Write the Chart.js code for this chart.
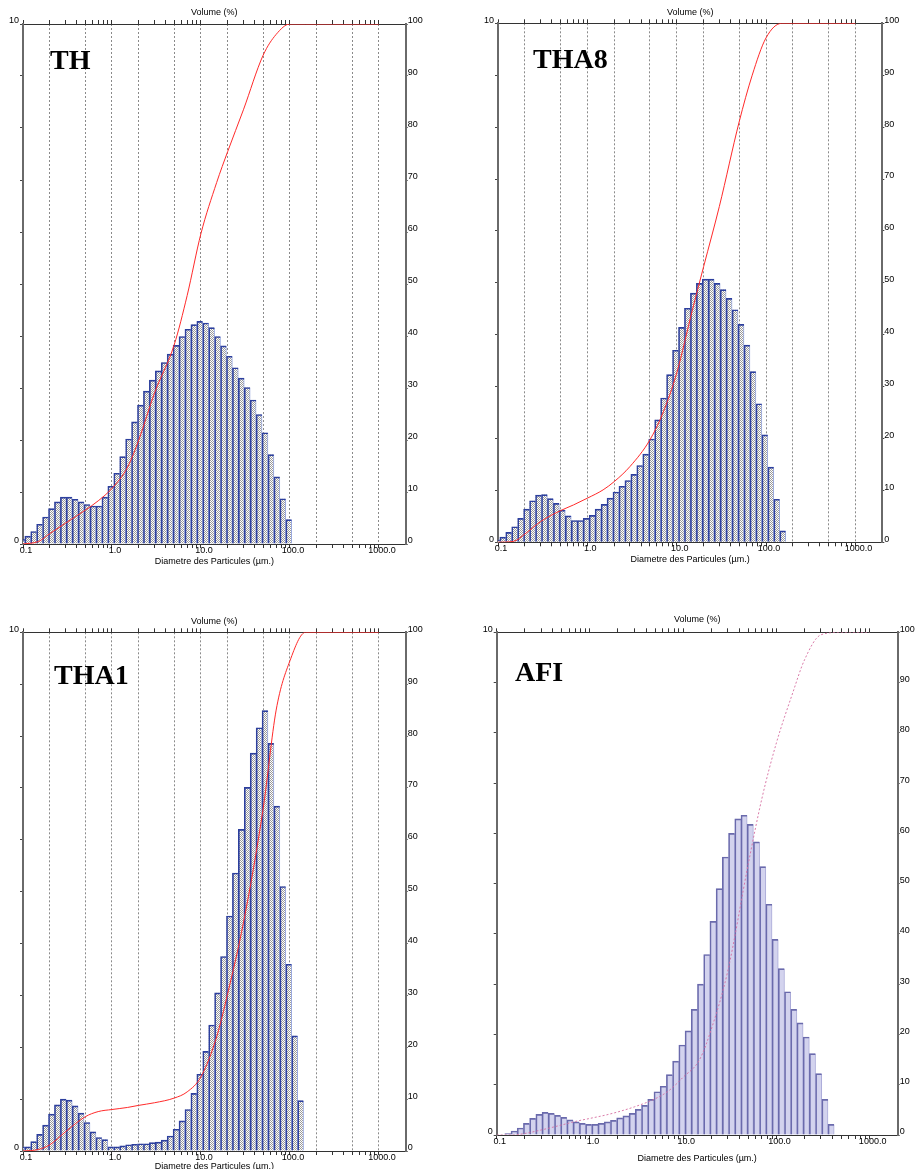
<!DOCTYPE html>
<html lang="fr">
<head>
<meta charset="utf-8">
<title>Distribution granulométrique</title>
<script src="https://cdn.jsdelivr.net/npm/chart.js@4.4.0/dist/chart.umd.min.js"></script>
<style>
  html, body { margin: 0; padding: 0; background: #fff; overflow: hidden; }
  #page { position: relative; width: 915px; height: 1169px; overflow: hidden; }
  canvas { position: absolute; }
  .nom { position: absolute; font: bold 28px "Liberation Serif", "Times New Roman", serif; line-height: 28px; color: #000; white-space: nowrap; }
</style>
</head>
<body>
<div id="page">
  <canvas id="cTH" width="440" height="575" style="left:0px;top:0px"></canvas>
  <canvas id="cTHA8" width="445" height="575" style="left:470px;top:0px"></canvas>
  <canvas id="cTHA1" width="440" height="578" style="left:0px;top:600px"></canvas>
  <canvas id="cAFI" width="445" height="569" style="left:470px;top:600px"></canvas>
  <div class="nom" style="left:50px;top:46px">TH</div>
  <div class="nom" style="left:533px;top:45px">THA8</div>
  <div class="nom" style="left:54px;top:661px">THA1</div>
  <div class="nom" style="left:515px;top:658px">AFI</div>
</div>
<script>
//Centre des classes de taille (µm)
const diametres = [0.0970, 0.1131, 0.1318, 0.1537, 0.1792, 0.2089, 0.2436, 0.2840, 0.3311, 0.3860,
  0.4501, 0.5248, 0.6118, 0.7133, 0.8317, 0.9697, 1.131, 1.318, 1.537, 1.792,
  2.089, 2.436, 2.840, 3.311, 3.860, 4.501, 5.248, 6.118, 7.133, 8.317,
  9.697, 11.31, 13.18, 15.37, 17.92, 20.89, 24.36, 28.40, 33.11, 38.60,
  45.01, 52.48, 61.18, 71.33, 83.17, 96.97, 113.1, 131.8, 153.7, 179.2,
  208.9, 243.6, 284.0, 331.1, 386.0];

//Volume (%) par classe, lu sur chaque histogramme
const volTH = [0.09, 0.15, 0.24, 0.38, 0.52, 0.68, 0.81, 0.90, 0.90, 0.86,
  0.81, 0.76, 0.73, 0.73, 0.90, 1.11, 1.36, 1.68, 2.02, 2.35,
  2.67, 2.94, 3.15, 3.33, 3.49, 3.65, 3.82, 3.99, 4.13, 4.22,
  4.28, 4.25, 4.16, 3.99, 3.81, 3.61, 3.39, 3.19, 3.01, 2.77,
  2.49, 2.14, 1.72, 1.29, 0.87, 0.47];
const volTHA8 = [0.05, 0.10, 0.19, 0.30, 0.46, 0.64, 0.80, 0.91, 0.92, 0.84,
  0.75, 0.62, 0.51, 0.42, 0.42, 0.46, 0.52, 0.64, 0.73, 0.85,
  0.97, 1.08, 1.19, 1.31, 1.48, 1.70, 1.99, 2.36, 2.78, 3.23,
  3.70, 4.14, 4.51, 4.80, 4.99, 5.07, 5.07, 4.99, 4.87, 4.70,
  4.48, 4.20, 3.80, 3.29, 2.67, 2.07, 1.45, 0.83, 0.22];
const volTHA1 = [0.08, 0.08, 0.18, 0.32, 0.50, 0.71, 0.89, 1.00, 0.98, 0.87,
  0.73, 0.55, 0.37, 0.26, 0.22, 0.08, 0.08, 0.10, 0.12, 0.13,
  0.14, 0.14, 0.16, 0.17, 0.21, 0.29, 0.42, 0.58, 0.80, 1.11,
  1.48, 1.92, 2.43, 3.05, 3.75, 4.53, 5.36, 6.20, 7.01, 7.67,
  8.16, 8.49, 7.86, 6.65, 5.10, 3.60, 2.22, 0.97];
const volAFI = [0, 0, 0.03, 0.08, 0.14, 0.23, 0.33, 0.41, 0.45, 0.43,
  0.39, 0.35, 0.30, 0.26, 0.23, 0.21, 0.21, 0.23, 0.26, 0.29,
  0.34, 0.38, 0.43, 0.51, 0.59, 0.71, 0.86, 0.97, 1.20, 1.47,
  1.79, 2.07, 2.50, 3.00, 3.59, 4.25, 4.90, 5.53, 6.00, 6.29,
  6.36, 6.18, 5.83, 5.34, 4.59, 3.89, 3.31, 2.85, 2.50, 2.23,
  1.95, 1.62, 1.22, 0.71, 0.21];

//Courbe cumulée (%) relevée à ces diamètres
const diamCumul = [0.1, 0.15, 0.2, 0.3, 0.5, 0.7, 1, 1.5, 2, 3, 5, 7, 10, 15, 20, 30, 50, 70, 100, 150, 200, 300, 500, 1000];
const cumTH = [0, 0.5, 2.0, 4.0, 6.5, 8.3, 10.7, 14.8, 20.0, 29.0, 38.3, 47.8, 59.7, 69.5, 75.5, 83.5, 94.0, 98.0, 100, 100, 100, 100, 100, 100];
const cumTHA8 = [0, 0.2, 1.6, 4.0, 6.1, 7.2, 8.5, 10.1, 11.7, 14.6, 19.7, 24.9, 32.6, 44.8, 53.1, 64.7, 81.0, 90.0, 97.2, 100, 100, 100, 100, 100];
const cumTHA1 = [0, 0.3, 1.2, 3.7, 6.6, 7.6, 8.0, 8.4, 8.8, 9.3, 10.2, 11.4, 14.3, 22.0, 30.4, 44.0, 66.0, 85.0, 94.5, 100, 100, 100, 100, 100];
const cumAFI = [0, 0, 0.3, 1.0, 2.0, 2.7, 3.3, 4.0, 4.6, 5.6, 7.2, 8.8, 11.5, 15.0, 21.0, 32.5, 54.0, 67.0, 78.0, 88.0, 94.5, 99.5, 100, 100];

//Axe des diamètres
const xMin = 0.1, xMax = 2000;
const mantisses = [1, 2, 3, 4, 5, 6, 7, 8, 9];
const decades = [0.1, 1, 10, 100];
const lignesGrille = [0.2, 0.5, 1, 2, 5, 10, 20, 50, 100, 200, 500, 1000];
const valEtiq = [0.1, 1, 10, 100, 1000];
const txtEtiq = ['0.1', '1.0', '10.0', '100.0', '1000.0'];
const graduations = decades.flatMap(d => mantisses.map(m => +(m * d).toPrecision(3))).concat([1000]);

Chart.defaults.font.family = "'Liberation Sans', Arial, sans-serif";
Chart.defaults.color = '#000';

//Trame pointillée des barres
function trame(c1, c2) {
  const t = document.createElement('canvas');
  t.width = 2; t.height = 2;
  const g = t.getContext('2d');
  g.fillStyle = c2; g.fillRect(0, 0, 2, 2);
  g.fillStyle = c1; g.fillRect(0, 0, 1, 1); g.fillRect(1, 1, 1, 1);
  return g.createPattern(t, 'repeat');
}

const styleNormal = {
  rouge: '#ff2a2a', pointille: [], fonce: '#2c3f9e', clair: '#98a8e0',
  fond: trame('#9a9a9a', '#ffffff'), grille: '#8a8a8a'
};
const styleAFI = {
  rouge: 'rgba(214, 110, 160, 0.9)', pointille: [2, 2], fonce: '#6a6aac', clair: '#aaaad8',
  fond: '#d3d3ee', grille: 'rgba(0,0,0,0)'
};

//Dimensions: marge gauche, haut, droite, bas de la zone de tracé
const panneaux = [
  { id: 'cTH', vol: volTH, cum: cumTH, g: 23, h: 24, d: 34.3, b: 31, tHaut: 7.6, tBas: 7.6, s: styleNormal },
  { id: 'cTHA8', vol: volTHA8, cum: cumTHA8, g: 28, h: 23.3, d: 32.7, b: 32.7, tHaut: 6.9, tBas: 10.3, s: styleNormal },
  { id: 'cTHA1', vol: volTHA1, cum: cumTHA1, g: 23, h: 32.3, d: 34.3, b: 27, tHaut: 15.9, tBas: 6.1, s: styleNormal },
  { id: 'cAFI', vol: volAFI, cum: cumAFI, g: 26.7, h: 32.3, d: 17.3, b: 34, tHaut: 13.9, tBas: 5.3, s: styleAFI }
];

function tracer(p) {
  const police = { size: 9, lineHeight: 1.2 };
  const s = p.s;
  const barres = () => p.vol.map((v, i) => ({ x: diametres[i], y: v }));
  const axeX = {
    type: 'logarithmic', min: xMin, max: xMax, offset: false,
    afterBuildTicks: sc => { sc.ticks = graduations.map(v => ({ value: v })); }
  };

  new Chart(document.getElementById(p.id), {
    type: 'bar',
    data: {
      datasets: [
        {
          type: 'line', label: 'Cumul', data: diamCumul.map((d, i) => ({ x: d, y: p.cum[i] })),
          xAxisID: 'x', yAxisID: 'y2', borderColor: s.rouge, borderWidth: 1, borderDash: s.pointille,
          pointRadius: 0, cubicInterpolationMode: 'monotone', fill: false, order: 0
        },
        {
          label: 'Bord', data: barres(), xAxisID: 'xb', yAxisID: 'y',
          backgroundColor: 'rgba(0,0,0,0)', borderColor: s.fonce,
          borderWidth: { left: 1, top: 1, right: 0, bottom: 0 },
          grouped: false, barPercentage: 1, categoryPercentage: 1, clip: 0, order: 1
        },
        {
          label: 'Volume', data: barres(), xAxisID: 'xb', yAxisID: 'y',
          backgroundColor: s.fond, borderColor: s.clair,
          borderWidth: { left: 0, top: 0, right: 1, bottom: 0 },
          grouped: false, barPercentage: 1, categoryPercentage: 1, clip: 0, order: 2
        }
      ]
    },
    options: {
      responsive: false, animation: false, events: [],
      layout: { padding: 0 },
      plugins: { legend: { display: false }, tooltip: { enabled: false } },
      scales: {
        xb: {
          type: 'logarithmic', display: false, min: xMin, max: xMax, offset: false,
          grid: { offset: false },
          afterBuildTicks: sc => { sc.ticks = [{ value: xMin }, { value: xMax }]; }
        },
        x: Object.assign({}, axeX, {
          position: 'bottom',
          afterFit: sc => { sc.height = p.b; },
          grid: {
            offset: false, drawOnChartArea: true, lineWidth: 1, tickLength: 4, tickColor: '#333',
            color: c => lignesGrille.includes(c.tick.value) ? s.grille : 'rgba(0,0,0,0)'
          },
          border: { display: true, color: '#333', width: 1, dash: [2, 2] },
          ticks: {
            autoSkip: false, maxRotation: 0, minRotation: 0, padding: -2, labelOffset: 3,
            font: { size: 9, lineHeight: 1 },
            callback: v => valEtiq.includes(v) ? txtEtiq[valEtiq.indexOf(v)] : ''
          },
          title: {
            display: true, text: 'Diametre des Particules (µm.)', font: police,
            padding: { top: 0, bottom: p.tBas }
          }
        }),
        x2: Object.assign({}, axeX, {
          position: 'top',
          afterFit: sc => { sc.height = p.h; },
          grid: { offset: false, drawOnChartArea: false, tickLength: 4, tickColor: '#333' },
          border: { display: true, color: '#333', width: 1 },
          ticks: { display: false, autoSkip: false },
          title: { display: true, text: 'Volume (%)', font: police, padding: { top: p.tHaut, bottom: 0 } }
        }),
        y: {
          position: 'left', min: 0, max: 10,
          afterFit: sc => { sc.width = p.g; },
          grid: { drawOnChartArea: false, tickLength: 3, tickColor: '#444' },
          border: { display: true, color: '#6a6a6a', width: 2 },
          ticks: {
            stepSize: 1, autoSkip: false, padding: 1, labelOffset: -3, font: { size: 9 },
            callback: v => (v === 0 || v === 10) ? String(v) : ''
          }
        },
        y2: {
          position: 'right', min: 0, max: 100,
          afterFit: sc => { sc.width = p.d; },
          grid: { drawOnChartArea: false, tickLength: 2, tickColor: '#444' },
          border: { display: true, color: '#6a6a6a', width: 2 },
          ticks: { stepSize: 10, autoSkip: false, padding: 0, labelOffset: -3, font: { size: 9 } }
        }
      }
    }
  });
}

panneaux.forEach(tracer);
</script>
</body>
</html>
